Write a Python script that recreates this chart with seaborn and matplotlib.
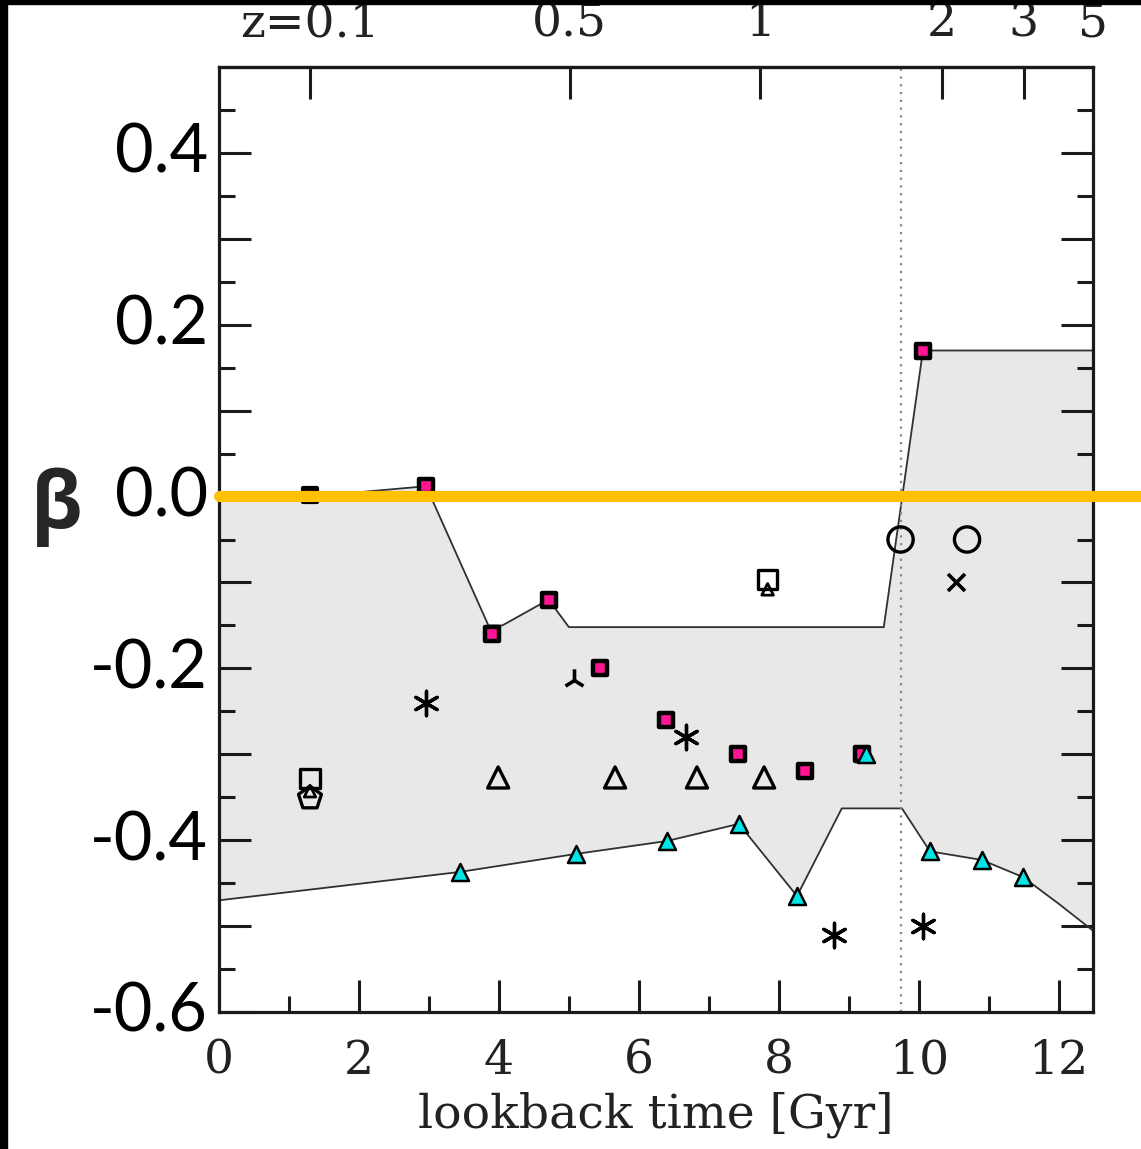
import numpy as np
import matplotlib
matplotlib.use("Agg")
import matplotlib.pyplot as plt
from matplotlib.patches import Rectangle
from matplotlib.transforms import ScaledTranslation
import seaborn as sns

# Envelope of the model predictions (lookback time [Gyr], beta)
upper_t = [0.0, 1.3, 2.96, 3.85, 4.05, 4.71, 5.0, 9.5, 10.06, 12.5]
upper_beta = [0.0, 0.0, 0.012, -0.15, -0.15, -0.12, -0.152, -0.152, 0.17, 0.17]
lower_t = [0.0, 3.44, 5.1, 6.4, 7.43, 8.26, 8.9, 9.76, 10.16, 10.9, 11.49, 12.0, 12.5]
lower_beta = [-0.47, -0.437, -0.416, -0.401, -0.381, -0.465, -0.363, -0.363,
              -0.413, -0.423, -0.443, -0.474, -0.506]

# Measurements, one group per symbol
sq_t = [2.96, 3.9, 4.71, 5.44, 6.39, 7.41, 8.37, 9.19, 10.06]
sq_beta = [0.012, -0.16, -0.12, -0.2, -0.26, -0.30, -0.32, -0.30, 0.17]
dark_sq_t = [1.3]
dark_sq_beta = [0.002]
tri_t = [3.44, 5.1, 6.4, 7.43, 8.26, 9.25, 10.16, 10.9, 11.49]
tri_beta = [-0.437, -0.416, -0.401, -0.381, -0.465, -0.30, -0.413, -0.423, -0.443]
otri_t = [3.99, 5.66, 6.83, 7.79]
otri_beta = [-0.327, -0.327, -0.327, -0.327]
small_tri_t = [1.3, 7.84]
small_tri_beta = [-0.343, -0.108]
ast_t = [2.96, 6.67, 8.79, 10.06]
ast_beta = [-0.24, -0.28, -0.51, -0.50]
circ_t = [9.74, 10.69]
circ_beta = [-0.05, -0.05]
cross_t = [10.53]
cross_beta = [-0.10]
osq_t = [1.3, 7.84]
osq_beta = [-0.328, -0.097]
pent_t = [1.3]
pent_beta = [-0.351]
tri3_t = [5.07]
tri3_beta = [-0.213]

# Reference line and transition epoch
zero_t = [0.0, 13.2]
zero_beta = [0.001, 0.001]
transition_t = 9.75

# Axis ticks
y_major = [-0.6, -0.5, -0.4, -0.3, -0.2, -0.1, 0.0, 0.1, 0.2, 0.3, 0.4]
y_labels = ["-0.6", "", "-0.4", "", "-0.2", "", "0.0", "", "0.2", "", "0.4"]
x_major = [0, 2, 4, 6, 8, 10, 12]
x_minor = [1, 3, 5, 7, 9, 11]
z_t = [1.3, 5.01, 7.73, 10.33, 11.5, 12.49]
z_labels = ["z=0.1", "0.5", "1", "2", "3", "5"]

sns.set_theme(style="ticks")
plt.rcParams["axes.unicode_minus"] = False
plt.rcParams["font.family"] = ["DejaVu Serif"]

fig = plt.figure(figsize=(11.41, 11.49), dpi=100)
fig.patch.set_facecolor("white")
ax = fig.add_axes([219 / 1141, 1 - 1012 / 1149, 874 / 1141, 945 / 1149])
ax.set_facecolor("white")

# shaded envelope
ax.fill(np.r_[upper_t, lower_t[::-1]], np.r_[upper_beta, lower_beta[::-1]],
        color="#e8e8e8", lw=0, zorder=0.5)
sns.lineplot(x=upper_t, y=upper_beta, ax=ax, sort=False, estimator=None,
             color="#303030", lw=1.3, zorder=1)
sns.lineplot(x=lower_t, y=lower_beta, ax=ax, sort=False, estimator=None,
             color="#303030", lw=1.3, zorder=1)

ax.axvline(transition_t, color="#888888", lw=1.6, ls=(0, (1, 2.5)), zorder=1.5)

def pts(x, y, **kw):
    sns.scatterplot(x=x, y=y, ax=ax, legend=False, zorder=kw.pop("zorder", 3), **kw)

pts(sq_t, sq_beta, marker="s", s=95, color="#ff1493", edgecolor="black", linewidth=3.2)
pts(dark_sq_t, dark_sq_beta, marker="s", s=110, color="#2a0012", edgecolor="black", linewidth=3.0)
pts(tri_t, tri_beta, marker="^", s=150, color="#00e5e5", edgecolor="black", linewidth=1.8, zorder=3.5)
pts(otri_t, otri_beta, marker="^", s=230, facecolor="none", edgecolor="black", linewidth=2.4)
pts(osq_t, osq_beta, marker="s", s=190, facecolor="none", edgecolor="black", linewidth=2.4)
pts(pent_t, pent_beta, marker="p", s=300, facecolor="none", edgecolor="black", linewidth=2.4)
pts(small_tri_t, small_tri_beta, marker="^", s=70, facecolor="none", edgecolor="black", linewidth=2.0)
pts(ast_t, ast_beta, marker=(6, 2, 0), s=310, color="black", linewidth=2.4)
pts(circ_t, circ_beta, marker="o", s=330, facecolor="none", edgecolor="black", linewidth=2.4)
pts(cross_t, cross_beta, marker="x", s=150, color="black", linewidth=2.6)
pts(tri3_t, tri3_beta, marker="2", s=260, color="black", linewidth=2.6)

# beta = 0 reference line, running past the frame
sns.lineplot(x=zero_t, y=zero_beta, ax=ax, sort=False, estimator=None,
             color="#ffc000", lw=8, zorder=6, clip_on=False)

ax.set_xlim(0, 12.49)
ax.set_ylim(-0.6, 0.5)

for sp in ax.spines.values():
    sp.set_visible(True)
    sp.set_linewidth(2.3)
    sp.set_color("#1a1a1a")

ax.set_xticks(x_major, [str(v) for v in x_major])
ax.set_xticks(x_minor, minor=True)
ax.set_yticks(y_major, y_labels)
ax.set_yticks(np.arange(-0.55, 0.5, 0.1), minor=True)
ax.tick_params(axis="both", which="both", direction="in", color="#1a1a1a", width=2.2)
ax.tick_params(axis="both", which="major", length=23)
ax.tick_params(axis="both", which="minor", length=11.5)
ax.tick_params(axis="x", which="both", bottom=True, top=False, pad=19,
               labelsize=34, labelcolor="#222222")
ax.tick_params(axis="y", which="both", left=True, right=True, pad=8,
               labelsize=48, labelcolor="black")
lift = ScaledTranslation(0, 5 / 100, fig.dpi_scale_trans)
for lab in ax.get_yticklabels():
    lab.set_fontfamily(["Lato", "DejaVu Sans"])
    lab.set_transform(lab.get_transform() + lift)

ax.set_xlabel("lookback time [Gyr]", fontsize=34, color="#222222", labelpad=6)
ax.set_ylabel("")

top = ax.secondary_xaxis("top")
top.set_xticks(z_t, z_labels)
top.tick_params(direction="in", length=23, width=2.2, color="#1a1a1a",
                pad=15, labelsize=34, labelcolor="#222222")
top.spines["top"].set_linewidth(2.3)

fig.text(57 / 1141, 1 - 507 / 1149, "β", fontsize=56, fontweight="bold",
         family=["Open Sans", "DejaVu Sans"], ha="center", va="center")

# dark frame strips along the left and top edges
fig.add_artist(Rectangle((0, 0), 7 / 1141, 1, transform=fig.transFigure,
                         color="black", zorder=10))
fig.add_artist(Rectangle((0, 1 - 4 / 1149), 1, 4 / 1149, transform=fig.transFigure,
                         color="black", zorder=10))

fig.savefig("out.png", dpi=100, facecolor="white")
